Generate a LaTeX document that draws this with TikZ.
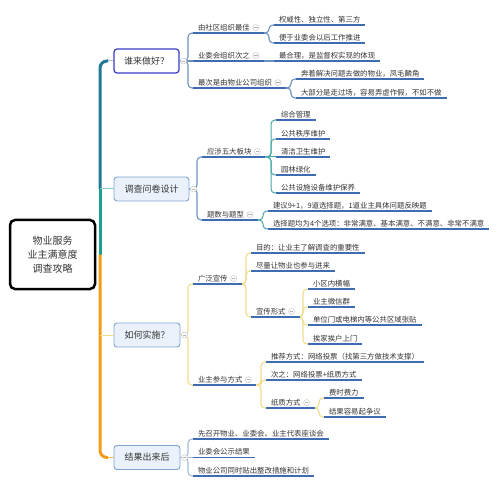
\documentclass[tikz,border=0pt]{standalone}
\usepackage{fontspec}
\setmainfont{Noto Sans CJK SC}
\definecolor{txt}{HTML}{333333}
\definecolor{ulc}{HTML}{3D6CB0}
\definecolor{mainbd}{HTML}{7EA6D2}
\definecolor{mainfl}{HTML}{EAF1FA}
\definecolor{whobd}{HTML}{3A3AC4}
\definecolor{trunkA}{HTML}{1F7895}
\definecolor{trunkB}{HTML}{1AA08F}
\definecolor{trunkO}{HTML}{F39C1A}
\definecolor{cWc}{HTML}{6B8FBF}
\definecolor{cSc}{HTML}{6A94C4}
\definecolor{cTc}{HTML}{45A7A5}
\definecolor{cHc}{HTML}{F0DC8C}
\definecolor{cRc}{HTML}{A7BED6}
\newcommand\padr{\kern9pt}
\begin{document}
\begin{tikzpicture}[x=1pt,y=-1pt,
  lf/.style={font=\fontsize{7.4}{9}\selectfont, text=txt, inner xsep=5pt, inner ysep=2pt, anchor=south west, outer sep=0pt},
  ul/.style={draw=ulc, line width=1.4pt},
  mainbox/.style={draw=mainbd, fill=mainfl, rounded corners=3pt, line width=0.9pt, minimum height=24pt, font=\fontsize{9}{10}\selectfont, text=txt, inner sep=0pt},
  rootbox/.style={draw=black, fill=white, rounded corners=5pt, line width=2.5pt, minimum width=85pt, minimum height=69pt, align=center, font=\fontsize{10}{14}\selectfont, text=txt},
  fold/.style={circle, draw=gray!45, fill=white, line width=0.5pt, minimum size=6pt, inner sep=0pt,
    path picture={\draw[gray!60, line width=0.5pt] ([xshift=-1.7pt]path picture bounding box.center) -- ([xshift=1.7pt]path picture bounding box.center);}},
  cW/.style={draw=cWc, line width=1.1pt, rounded corners=4pt},
  cS/.style={draw=cSc, line width=1.1pt, rounded corners=4pt},
  cT/.style={draw=cTc, line width=1pt, rounded corners=4pt},
  cH/.style={draw=cHc, line width=1.1pt, rounded corners=4pt},
  cR/.style={draw=cRc, line width=1.1pt, rounded corners=4pt},
  trunk/.style={line width=3pt, rounded corners=7pt}
]
\useasboundingbox (0,0) rectangle (500,486);

% root and main nodes
\node[rootbox] (root) at (52.5,254.5) {物业服务\\业主满意度\\调查攻略};
\node[mainbox, draw=whobd, fill=white, line width=1.2pt, minimum width=65pt] (who) at (146.5,61) {谁来做好？};
\node[mainbox, minimum width=75pt] (sur) at (151.5,189) {调查问卷设计};
\node[mainbox, minimum width=66pt] (how) at (147,335) {如何实施？};
\node[mainbox, minimum width=66pt] (res) at (147,457.5) {结果出来后};

% who group
\node[lf] (w1) at (193,33) {由社区组织最佳\padr};
\node[lf] (w2) at (193,61) {业委会组织次之\padr};
\node[lf] (w3) at (193,88) {最次是由物业公司组织\padr};
\node[lf] (w1a) at (274,25) {权威性、独立性、第三方};
\node[lf] (w1b) at (274,43) {便于业委会以后工作推进};
\node[lf] (w2a) at (274,61) {最合理，是监督权实现的体现};
\node[lf] (w3a) at (296,79) {奔着解决问题去做的物业，凤毛麟角};
\node[lf] (w3b) at (296,98) {大部分是走过场，容易弄虚作假，不如不做};

% survey group
\node[lf] (s1) at (202,157) {应涉五大板块\padr};
\node[lf] (s2) at (202,220) {题数与题型\padr};
\node[lf] (s1a) at (276,120) {综合管理};
\node[lf] (s1b) at (276,139) {公共秩序维护};
\node[lf] (s1c) at (276,157) {清洁卫生维护};
\node[lf] (s1d) at (276,175) {园林绿化};
\node[lf] (s1e) at (276,193) {公共设施设备维护保养};
\node[lf] (s2a) at (268,211) {建议9+1，9道选择题，1道业主具体问题反映题};
\node[lf] (s2b) at (268,229) {选择题均为4个选项：非常满意、基本满意、不满意、非常不满意};

% how group
\node[lf] (h1) at (193,284) {广泛宣传\padr};
\node[lf] (h2) at (193,385) {业主参与方式\padr};
\node[lf] (h1a) at (251,253) {目的：让业主了解调查的重要性};
\node[lf] (h1b) at (251,271) {尽量让物业也参与进来};
\node[lf] (h1c) at (251,317) {宣传形式\padr};
\node[lf] (h1c1) at (308,289) {小区内横幅};
\node[lf] (h1c2) at (308,307) {业主微信群};
\node[lf] (h1c3) at (308,325) {单位门或电梯内等公共区域张贴};
\node[lf] (h1c4) at (308,344) {挨家挨户上门};
\node[lf] (h2a) at (266,362) {推荐方式：网络投票（找第三方做技术支撑）};
\node[lf] (h2b) at (266,380) {次之：网络投票+纸质方式};
\node[lf] (h2c) at (266,408) {纸质方式\padr};
\node[lf] (h2c1) at (324,398) {费时费力};
\node[lf] (h2c2) at (324,417) {结果容易起争议};

% result group
\node[lf] (r1) at (193,439) {先召开物业、业委会、业主代表座谈会};
\node[lf] (r2) at (193,457.5) {业委会公示结果};
\node[lf] (r3) at (193,476) {物业公司同时贴出整改措施和计划};

% trunk
\coordinate (tsur) at (100,189);
\coordinate (tmid) at (100,254.5);
\coordinate (twho) at (108,61);
\coordinate (tres) at (108,457.5);
\draw[trunk, draw=trunkA] (twho) -| (tsur);
\draw[line width=3pt, draw=trunkB] (tsur) -- (tmid);
\draw[trunk, draw=trunkO] (tmid) |- (tres);
\draw[draw=cWc!60, line width=1pt] (twho) -- (who.west);
\draw[draw=cTc!60, line width=1pt] (tsur) -- (sur.west);
\draw[draw=cHc, line width=1pt] (how.west -| tmid) -- (how.west);
\draw[draw=trunkO!70, line width=1.2pt] (tres) -- (res.west);

% level 2 connectors
\foreach \c in {w1,w3} \draw[cW] (who.east) -| ([xshift=-5pt]\c.south west) -- (\c.south west);
\draw[cW] (who.east) -- (w2.south west);
\foreach \c in {s1,s2} \draw[cS] (sur.east) -| ([xshift=-5pt]\c.south west) -- (\c.south west);
\foreach \c in {h1,h2} \draw[cH] (how.east) -| ([xshift=-5pt]\c.south west) -- (\c.south west);
\foreach \c in {r1,r3} \draw[cR] (res.east) -| ([xshift=-5pt]\c.south west) -- (\c.south west);
\draw[cR] (res.east) -- (r2.south west);

% level 3+ connectors
\foreach \c in {w1a,w1b} \draw[cW] (w1.south east) -| ([xshift=-5pt]\c.south west) -- (\c.south west);
\draw[cW] (w2.south east) -- (w2a.south west);
\foreach \c in {w3a,w3b} \draw[cW] (w3.south east) -| ([xshift=-5pt]\c.south west) -- (\c.south west);
\foreach \c in {s1a,s1b,s1d,s1e} \draw[cT] (s1.south east) -| ([xshift=-5pt]\c.south west) -- (\c.south west);
\draw[cT] (s1.south east) -- (s1c.south west);
\foreach \c in {s2a,s2b} \draw[cT] (s2.south east) -| ([xshift=-5pt]\c.south west) -- (\c.south west);
\foreach \c in {h1a,h1b,h1c} \draw[cH] (h1.south east) -| ([xshift=-5pt]\c.south west) -- (\c.south west);
\foreach \c in {h1c1,h1c2,h1c3,h1c4} \draw[cH] (h1c.south east) -| ([xshift=-5pt]\c.south west) -- (\c.south west);
\foreach \c in {h2a,h2b,h2c} \draw[cH] (h2.south east) -| ([xshift=-5pt]\c.south west) -- (\c.south west);
\foreach \c in {h2c1,h2c2} \draw[cH] (h2c.south east) -| ([xshift=-5pt]\c.south west) -- (\c.south west);

% underlines
\foreach \n in {w1,w2,w3,w1a,w1b,w2a,w3a,w3b,s1,s2,s1a,s1b,s1c,s1d,s1e,s2a,s2b,h1,h2,h1a,h1b,h1c,h1c1,h1c2,h1c3,h1c4,h2a,h2b,h2c,h2c1,h2c2,r1,r2,r3}
  \draw[ul] (\n.south west) -- (\n.south east);

% fold markers
\node[fold] (fwho) at ([xshift=4pt]who.east) {};
\node[fold] (fsur) at ([xshift=4pt]sur.east) {};
\node[fold] (fhow) at ([xshift=4pt]how.east) {};
\node[fold] (fres) at ([xshift=4pt]res.east) {};
\foreach \n in {w1,w2,w3,s1,s2,h1,h2,h1c,h2c}
  \node[fold] (f\n) at ([xshift=-8pt]\n.east) {};
\end{tikzpicture}
\end{document}
